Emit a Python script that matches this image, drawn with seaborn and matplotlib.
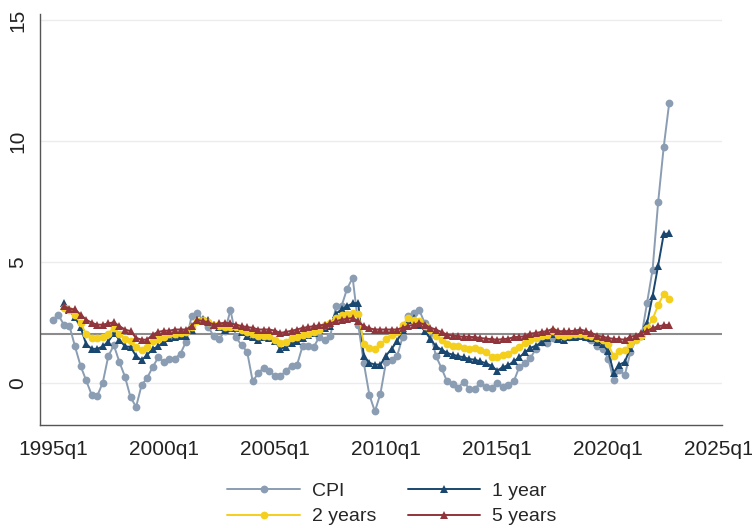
import numpy as np
import pandas as pd
import matplotlib
matplotlib.use("Agg")
import matplotlib.pyplot as plt
import seaborn as sns

# quarters 1995q1 .. 2022q4
start_year = 1995
n_q = 112

cpi = [2.6, 2.8, 2.4, 2.35, 1.5, 0.7, 0.1, -0.5, -0.55, 0.0,
       1.1, 1.55, 0.85, 0.25, -0.6, -1.0, -0.1, 0.2, 0.65, 1.05,
       0.85, 1.0, 1.0, 1.2, 1.7, 2.75, 2.9, 2.6, 2.3, 1.92,
       1.82, 2.15, 3.0, 1.87, 1.55, 1.28, 0.05, 0.4, 0.62, 0.5,
       0.27, 0.27, 0.5, 0.7, 0.75, 1.53, 1.53, 1.48, 1.9, 1.78,
       1.95, 3.17, 3.17, 3.89, 4.34, 2.4, 0.82, -0.5, -1.19, -0.45,
       0.85, 0.95, 1.1, 1.9, 2.75, 2.9, 3.0, 2.45, 2.05, 1.1,
       0.6, 0.05, -0.05, -0.2, 0.03, -0.25, -0.25, 0.0, -0.18, -0.22,
       0.0, -0.18, -0.08, 0.05, 0.65, 0.82, 1.02, 1.4, 1.7, 1.65,
       1.85, 1.9, 2.0, 1.9, 2.0, 2.0, 1.88, 1.75, 1.52, 1.4,
       1.0, 0.1, 0.54, 0.31, 1.25, 1.8, 1.92, 3.3, 4.67, 7.46,
       9.74, 11.58]

exp_1y = [np.nan, np.nan, 3.28, 3.0, 2.7, 2.3, 1.6, 1.4, 1.4, 1.5,
          1.7, 2.05, 1.78, 1.5, 1.48, 1.1, 0.93, 1.15, 1.4, 1.5,
          1.7, 1.85, 1.9, 1.95, 1.95, 2.2, 2.6, 2.65, 2.6, 2.4,
          2.3, 2.2, 2.25, 2.27, 2.1, 1.95, 1.9, 1.78, 1.9, 1.85,
          1.71, 1.4, 1.48, 1.65, 1.71, 1.85, 1.99, 2.06, 2.17, 2.27,
          2.34, 2.86, 3.03, 3.17, 3.28, 3.3, 1.1, 0.82, 0.75, 0.75,
          1.12, 1.4, 1.71, 2.2, 2.6, 2.68, 2.4, 2.13, 1.81, 1.5,
          1.37, 1.23, 1.16, 1.1, 1.05, 0.98, 0.95, 0.88, 0.8, 0.7,
          0.5, 0.64, 0.72, 0.88, 1.05, 1.25, 1.44, 1.53, 1.67, 1.85,
          2.03, 1.81, 1.78, 1.9, 1.9, 1.95, 1.9, 1.85, 1.7, 1.6,
          1.3, 0.42, 0.75, 0.85, 1.45, 1.9, 1.95, 2.45, 3.58, 4.84,
          6.14, 6.18]

exp_2y = [np.nan, np.nan, 3.1, 3.0, 2.78, 2.48, 2.0, 1.85, 1.85, 1.9,
          2.03, 2.27, 2.03, 1.81, 1.71, 1.48, 1.37, 1.48, 1.71, 1.8,
          1.9, 2.0, 2.0, 2.05, 2.1, 2.3, 2.54, 2.58, 2.5, 2.4,
          2.35, 2.3, 2.3, 2.3, 2.2, 2.1, 2.0, 1.92, 1.95, 1.95,
          1.78, 1.65, 1.7, 1.85, 1.9, 1.99, 2.03, 2.09, 2.2, 2.37,
          2.48, 2.68, 2.78, 2.86, 2.9, 2.86, 1.6, 1.44, 1.4, 1.58,
          1.81, 1.99, 2.1, 2.4, 2.68, 2.6, 2.54, 2.34, 2.2, 1.95,
          1.76, 1.58, 1.51, 1.51, 1.44, 1.4, 1.42, 1.37, 1.28, 1.05,
          1.07, 1.14, 1.2, 1.34, 1.48, 1.65, 1.78, 1.85, 1.92, 1.99,
          2.13, 1.99, 1.95, 1.99, 2.0, 2.0, 1.98, 1.95, 1.85, 1.75,
          1.58, 1.1, 1.3, 1.35, 1.6, 1.78, 1.92, 2.27, 2.63, 3.2,
          3.67, 3.47]

exp_5y = [np.nan, np.nan, 3.17, 3.06, 3.03, 2.82, 2.61, 2.48, 2.4, 2.4,
          2.45, 2.5, 2.34, 2.2, 2.13, 1.85, 1.78, 1.78, 1.99, 2.1,
          2.15, 2.15, 2.2, 2.2, 2.2, 2.35, 2.6, 2.55, 2.5, 2.4,
          2.45, 2.48, 2.45, 2.4, 2.34, 2.3, 2.27, 2.2, 2.2, 2.2,
          2.15, 2.06, 2.1, 2.15, 2.2, 2.27, 2.3, 2.34, 2.37, 2.4,
          2.45, 2.54, 2.61, 2.64, 2.68, 2.54, 2.34, 2.25, 2.2, 2.2,
          2.2, 2.2, 2.2, 2.27, 2.35, 2.4, 2.48, 2.4, 2.27, 2.2,
          2.09, 1.99, 1.95, 1.92, 1.9, 1.9, 1.88, 1.85, 1.82, 1.8,
          1.78, 1.8, 1.82, 1.88, 1.9, 1.92, 2.03, 2.06, 2.1, 2.13,
          2.23, 2.13, 2.13, 2.13, 2.15, 2.2, 2.13, 2.06, 1.95, 1.9,
          1.85, 1.81, 1.8, 1.78, 1.9, 1.95, 2.05, 2.15, 2.25, 2.34,
          2.37, 2.4]

series_names = ["CPI", "1 year", "2 years", "5 years"]
x_tick_years = [1995, 2000, 2005, 2010, 2015, 2020, 2025]
x_tick_labels = [f"{y}q1" for y in x_tick_years]
y_ticks = [0, 5, 10, 15]
target = 2

colors = {"CPI": "#8a9db3", "1 year": "#1a476f", "2 years": "#f5cf1d", "5 years": "#90353b"}
markers = {"CPI": "o", "1 year": "^", "2 years": "o", "5 years": "^"}

q = np.arange(n_q)
frames = []
for name, vals in zip(series_names, [cpi, exp_1y, exp_2y, exp_5y]):
    frames.append(pd.DataFrame({"q": q, "value": vals, "series": name}))
df = pd.concat(frames, ignore_index=True).dropna()

sns.set_style("white")
plt.rcParams["font.family"] = ["Liberation Sans", "DejaVu Sans"]

fig = plt.figure(figsize=(7.52, 5.28), dpi=100)
ax = fig.add_axes([40 / 752, 1 - 425 / 528, (722 - 40) / 752, (425 - 14) / 528])

for yt in y_ticks:
    ax.axhline(yt, color="#ececec", lw=1.0, zorder=0)
ax.axhline(target, color="#8c8c8c", lw=1.5, zorder=1)

for name in series_names:
    sub = df[df["series"] == name]
    sns.lineplot(data=sub, x="q", y="value", ax=ax, color=colors[name],
                 marker=markers[name], markersize=5.6 if markers[name] == "o" else 6.2,
                 markeredgewidth=0, linewidth=1.4, label=name,
                 estimator=None, sort=False, zorder=2)

ax.set_xlim(-2.3, 120.5)
ax.set_ylim(-1.75, 15.25)
ax.set_xticks([(y - start_year) * 4 for y in x_tick_years])
ax.set_xticklabels(x_tick_labels, fontsize=15)
ax.set_yticks(y_ticks)
ax.set_yticklabels([str(v) for v in y_ticks], fontsize=15, rotation=90, va="center")
ax.set_xlabel("")
ax.set_ylabel("")
ax.tick_params(axis="both", direction="out", length=7, width=1, color="#555555", colors="#222222")
ax.tick_params(axis="x", pad=4)
ax.tick_params(axis="y", pad=2)
for side in ["top", "right"]:
    ax.spines[side].set_visible(False)
for side in ["left", "bottom"]:
    ax.spines[side].set_color("#555555")
    ax.spines[side].set_linewidth(1.0)

handles, labels = ax.get_legend_handles_labels()
hmap = dict(zip(labels, handles))
order = ["CPI", "2 years", "1 year", "5 years"]
ax.legend([hmap[k] for k in order], order, ncol=2, frameon=False,
          loc="upper center", bbox_to_anchor=(392 / 752, 1 - 482 / 528),
          bbox_transform=fig.transFigure, fontsize=14, handlelength=3.75,
          handletextpad=0.6, columnspacing=1.6, labelspacing=0.42, numpoints=1,
          borderaxespad=0, borderpad=0)

fig.savefig("out.png", dpi=100)
